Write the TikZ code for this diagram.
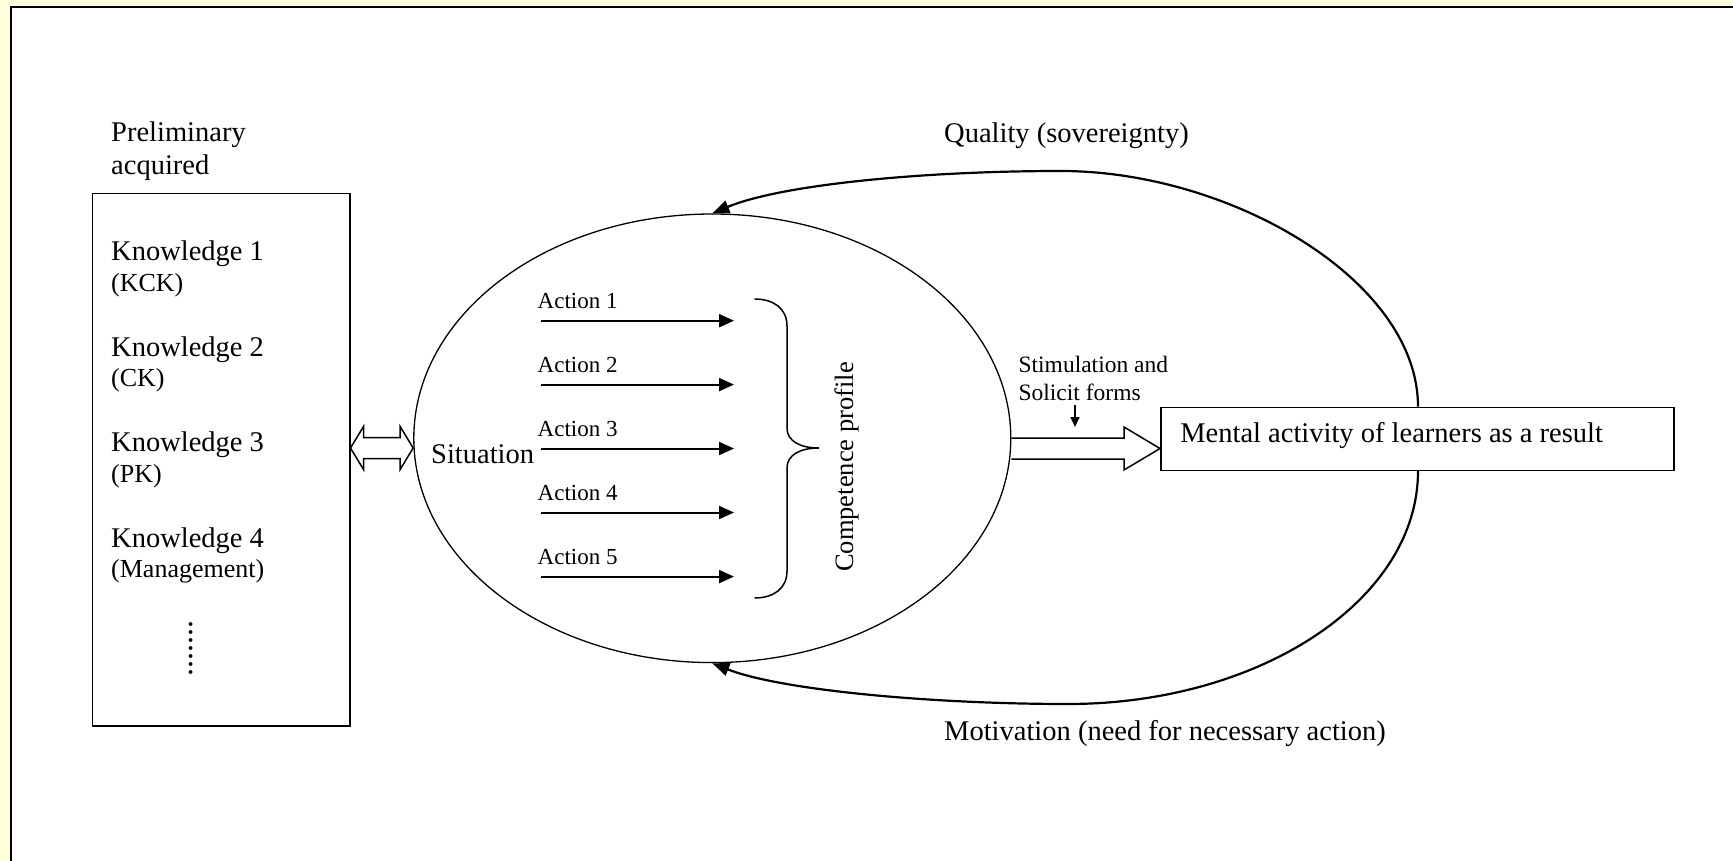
\documentclass[tikz,border=0pt]{standalone}
\usepackage{fontspec}
\setmainfont{Liberation Serif}
\usetikzlibrary{shapes.geometric,arrows.meta,calc}
\definecolor{bgyellow}{RGB}{255,255,220}
\begin{document}
\begin{tikzpicture}[x=1pt,y=-1pt,
  big/.style={font=\fontsize{28.5}{34}\selectfont, inner sep=0pt},
  sub/.style={font=\fontsize{26}{31}\selectfont, inner sep=0pt},
  actf/.style={font=\fontsize{23}{28}\selectfont, inner sep=0pt},
  stimf/.style={font=\fontsize{23.5}{28}\selectfont, inner sep=0pt},
  frameline/.style={line width=2.5pt},
  boxline/.style={draw, line width=1.5pt},
  actarrow/.style={line width=2pt, -{Triangle[length=15pt,width=13pt]}},
  loopcurve/.style={line width=2.2pt, -{Triangle[length=17pt,width=13pt]}},
  hollow/.style={line width=1.5pt, line join=miter},
]
\useasboundingbox (0,0) rectangle (1733,861);
% frame
\fill[bgyellow] (0,0) rectangle (1733,861);
\fill[white] (11,7) rectangle (1733,861);
\draw[frameline] (11,861) -- (11,7) -- (1733,7);

% left box
\node[big, anchor=base west] (prelim1) at (111,141.7) {Preliminary};
\node[big, anchor=base west] (prelim2) at (111,175) {acquired};
\node[boxline, minimum width=257.2pt, minimum height=532.3pt, anchor=north west, inner sep=0pt] (kbox) at (91.8,192.7) {};
\node[big, anchor=base west] (k1) at (111,261) {Knowledge 1};
\node[sub, anchor=base west] (k1s) at (111,291) {(KCK)};
\node[big, anchor=base west] (k2) at (111,356) {Knowledge 2};
\node[sub, anchor=base west] (k2s) at (111,386) {(CK)};
\node[big, anchor=base west] (k3) at (111,451) {Knowledge 3};
\node[sub, anchor=base west] (k3s) at (111,482) {(PK)};
\node[big, anchor=base west] (k4) at (111,547) {Knowledge 4};
\node[sub, anchor=base west] (k4s) at (111,577) {(Management)};
\node[font=\fontsize{32}{32}\selectfont, rotate=90, inner sep=0pt] (kdots) at (191,648) {.......};

% ellipse
\node[draw, ellipse, line width=1.3pt, minimum width=597pt, minimum height=448.6pt, inner sep=0pt] (ell) at (712.3,438.3) {};

% double hollow arrow
\coordinate (lev1) at (0,448);
\coordinate (dA) at (kbox.east |- lev1);
\coordinate (dB) at (ell.west |- lev1);
\draw[hollow] (dA) -- ($(dA)+(13,-21.5)$) -- ($(dA)+(13,-10.5)$) -- ($(dB)+(-13,-10.5)$) -- ($(dB)+(-13,-21.5)$) -- (dB) -- ($(dB)+(-13,21.5)$) -- ($(dB)+(-13,10.5)$) -- ($(dA)+(13,10.5)$) -- ($(dA)+(13,21.5)$) -- cycle;

% situation and actions
\node[big, anchor=base west] (sit) at (431,463) {Situation};
\foreach \i/\yy in {1/320.7,2/384.6,3/448.5,4/512.5,5/576.6} {
  \coordinate (as\i) at (540.7,\yy);
  \coordinate (ae\i) at (734,\yy);
  \draw[actarrow] (as\i) -- (ae\i);
  \node[actf, anchor=base west] (al\i) at (537.5,\yy-12.5) {Action \i};
}

% brace
\draw[line width=1.5pt] (754.5,299) .. controls (773,299) and (787,308) .. (787,326) -- (787,428) .. controls (787,441) and (800,448) .. (819,448) .. controls (800,448) and (787,455) .. (787,468) -- (787,571) .. controls (787,589) and (773,598) .. (754.5,598);
\node[font=\fontsize{26.5}{31}\selectfont, inner sep=0pt, rotate=90] (comp) at (846.5,467) {Competence profile};

% mental box
\node[big, boxline, anchor=north west, inner xsep=19.6pt, inner ysep=0pt, text width=473.8pt, align=flush left, text height=35pt, text depth=28pt] (mental) at (1160,406.7) {Mental activity of learners as a result};

% right hollow arrow
\coordinate (lev2) at (0,448.5);
\coordinate (raS) at (ell.east |- lev2);
\coordinate (raT) at (mental.west |- lev2);
\draw[hollow] ($(raS)+(0,-10.5)$) -- ($(raT)+(-36,-10.5)$) -- ($(raT)+(-36,-21.5)$) -- (raT) -- ($(raT)+(-36,21.5)$) -- ($(raT)+(-36,10.5)$) -- ($(raS)+(0,10.5)$);

% stimulation
\node[stimf, anchor=base west] (stim1) at (1018.4,372) {Stimulation and};
\node[stimf, anchor=base west] (stim2) at (1018.4,400) {Solicit forms};
\coordinate (sa1) at (1075,405);
\coordinate (sa2) at (1075,427);
\draw[line width=1.6pt, -{Triangle[length=10pt,width=9pt]}] (sa1) -- (sa2);

% loop curves
\coordinate (qS) at ($(mental.north west)+(258,0)$);
\coordinate (mS) at ($(mental.south west)+(258,0)$);
\draw[loopcurve] (qS) .. controls (1418,280) and (1230,171) .. (1061,171) .. controls (920,171) and (780,185) .. (ell.north);
\draw[loopcurve] (mS) .. controls (1418,600) and (1260,704) .. (1068,704) .. controls (930,704) and (780,690) .. (ell.south);

\node[big, anchor=base west] (qual) at (944,143) {Quality (sovereignty)};
\node[big, anchor=base west] (motiv) at (944,740) {Motivation (need for necessary action)};
\end{tikzpicture}
\end{document}
